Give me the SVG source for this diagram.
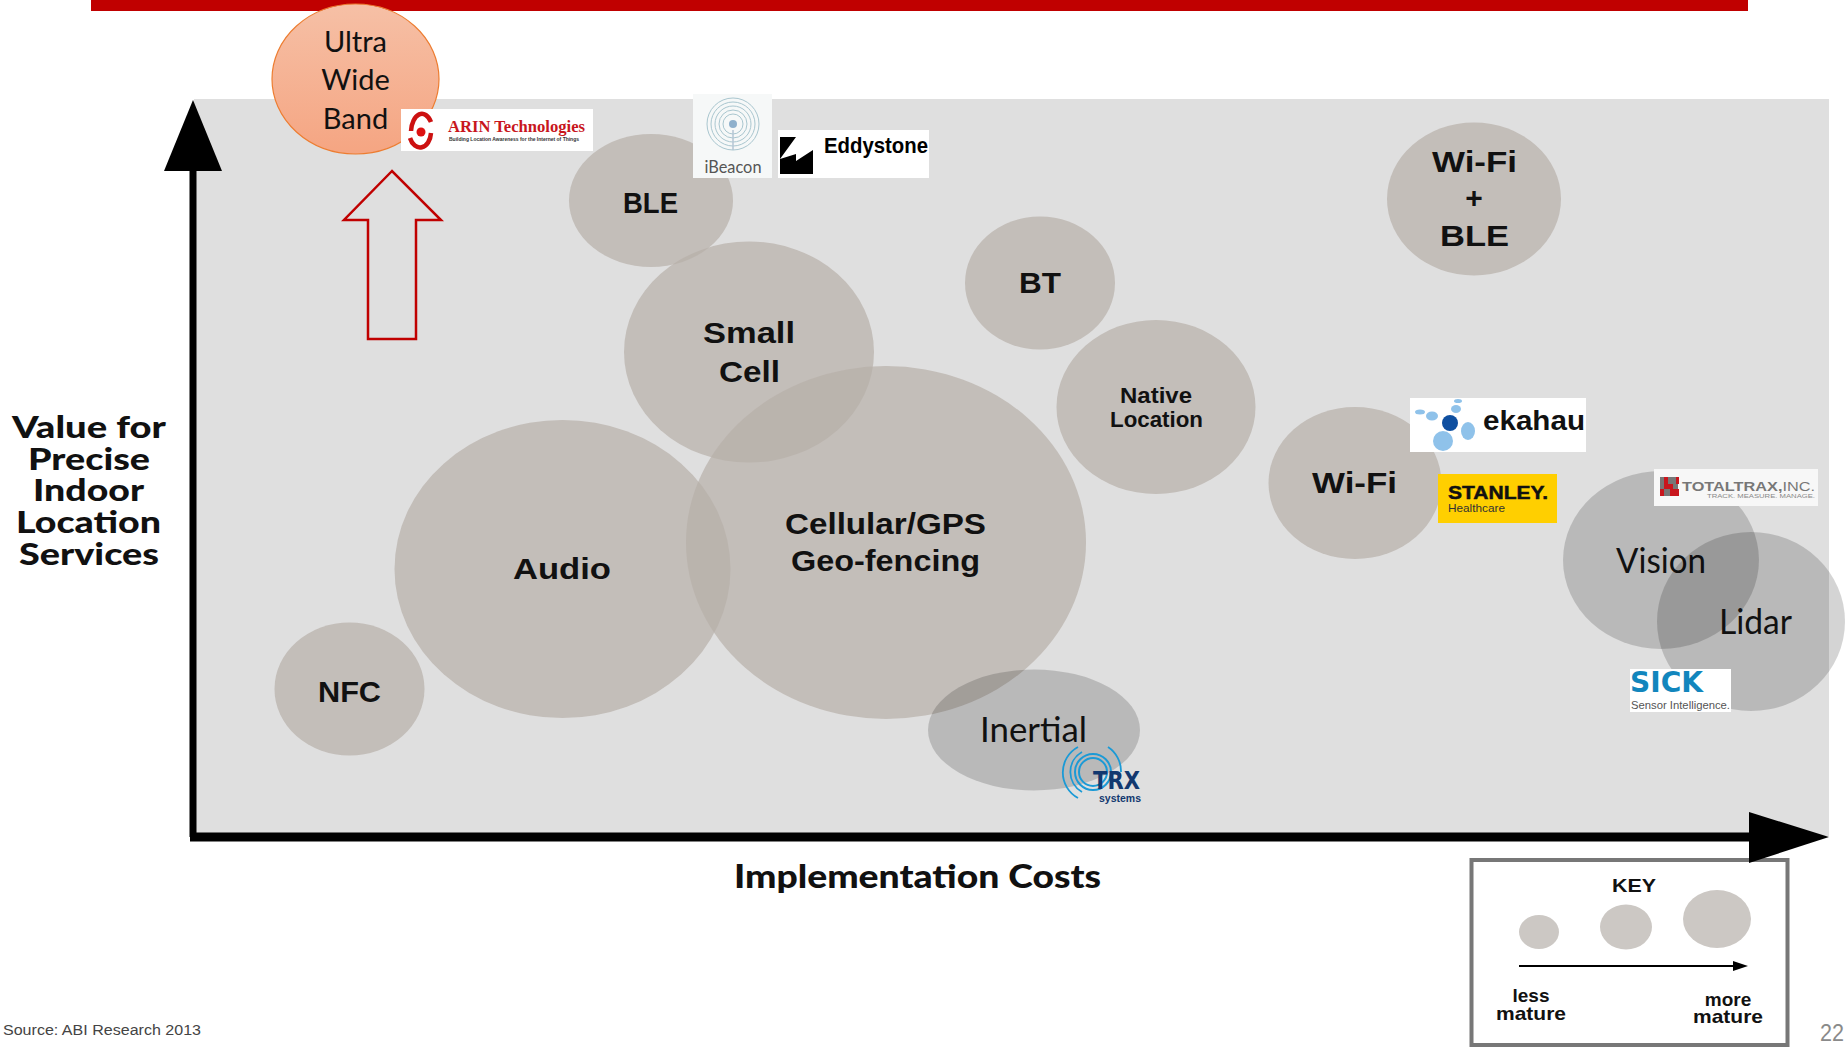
<svg xmlns="http://www.w3.org/2000/svg" width="1845" height="1047" viewBox="0 0 1845 1047">
<defs>
<linearGradient id="uwb" x1="0" y1="0" x2="0" y2="1"><stop offset="0" stop-color="#f6c0a6"/><stop offset="1" stop-color="#f5a582"/></linearGradient>
<style>
.b{fill:#b6afa8;fill-opacity:.7}
.g{fill:#000;fill-opacity:.17}
.k{fill:#ccc8c4}
text{font-family:"Liberation Sans",Arial,sans-serif;fill:#111}
.bl{font-weight:700;font-size:30px}
.c{font-family:Lato,"Liberation Sans",sans-serif;font-size:29px;fill:#111}
.c2{font-family:Lato,"Liberation Sans",sans-serif;font-size:34px;fill:#111}
.ax{font-family:Lato,"Liberation Sans",sans-serif;font-weight:900;font-size:31px}
.kt{font-weight:700;font-size:19px}
.logo{fill:#fff}
</style>
</defs>
<rect width="1845" height="1047" fill="#fff"/>
<rect x="91" y="0" width="1657" height="11" fill="#c00000"/>
<rect x="194" y="99" width="1635" height="737" fill="#dfdfdf"/>

<g id="node-ble"><ellipse class="b" cx="651" cy="200.5" rx="82" ry="66.5"/><text class="bl" x="623" y="213" textLength="55" lengthAdjust="spacingAndGlyphs">BLE</text></g>
<g id="node-small-cell"><ellipse class="b" cx="749" cy="352" rx="125" ry="110.5"/><text class="bl" x="703" y="343" textLength="92" lengthAdjust="spacingAndGlyphs">Small</text><text class="bl" x="719" y="382" textLength="61" lengthAdjust="spacingAndGlyphs">Cell</text></g>
<g id="node-bt"><ellipse class="b" cx="1040" cy="283" rx="75" ry="66.5"/><text class="bl" x="1019" y="293" textLength="42" lengthAdjust="spacingAndGlyphs">BT</text></g>
<g id="node-wifi-ble"><ellipse class="b" cx="1474" cy="199" rx="87" ry="76.5"/><text class="bl" x="1432" y="172" textLength="85" lengthAdjust="spacingAndGlyphs">Wi-Fi</text><text class="bl" x="1474" y="208" text-anchor="middle">+</text><text class="bl" x="1440" y="246" textLength="69" lengthAdjust="spacingAndGlyphs">BLE</text></g>
<g id="node-native"><ellipse class="b" cx="1156" cy="407" rx="99.5" ry="87"/><text class="bl" x="1120" y="403" textLength="72" lengthAdjust="spacingAndGlyphs" style="font-size:22px">Native</text><text class="bl" x="1110" y="427" textLength="93" lengthAdjust="spacingAndGlyphs" style="font-size:22px">Location</text></g>
<g id="node-wifi"><ellipse class="b" cx="1355" cy="483" rx="86.5" ry="76"/><text class="bl" x="1312" y="493" textLength="85" lengthAdjust="spacingAndGlyphs">Wi-Fi</text></g>
<g id="node-audio"><ellipse class="b" cx="562.5" cy="569" rx="168" ry="149"/><text class="bl" x="513" y="579" textLength="98" lengthAdjust="spacingAndGlyphs">Audio</text></g>
<g id="node-cellular"><ellipse class="b" cx="886" cy="542.5" rx="200" ry="176.5"/><text class="bl" x="785" y="534" textLength="201" lengthAdjust="spacingAndGlyphs">Cellular/GPS</text><text class="bl" x="791" y="571" textLength="189" lengthAdjust="spacingAndGlyphs">Geo-fencing</text></g>
<g id="node-nfc"><ellipse class="b" cx="349.5" cy="689" rx="75" ry="66.5"/><text class="bl" x="318" y="702" textLength="63" lengthAdjust="spacingAndGlyphs">NFC</text></g>
<g id="node-inertial"><ellipse class="g" cx="1034" cy="730" rx="106" ry="60.5"/><text class="c2" x="980" y="742" textLength="107" lengthAdjust="spacingAndGlyphs">Inertial</text></g>
<g id="node-vision"><ellipse class="g" cx="1661" cy="560" rx="98" ry="89"/><text class="c2" x="1616" y="573" textLength="90" lengthAdjust="spacingAndGlyphs">Vision</text></g>
<g id="node-lidar"><ellipse class="g" cx="1751" cy="621.5" rx="94" ry="89.5"/><text class="c2" x="1719" y="634" textLength="73" lengthAdjust="spacingAndGlyphs">Lidar</text></g>

<g id="node-uwb"><ellipse cx="355.5" cy="79" rx="83.5" ry="75" fill="url(#uwb)" stroke="#ed7d31" stroke-width="1.2"/>
<text class="c" x="355.5" y="52" text-anchor="middle">Ultra</text><text class="c" x="355.5" y="90" text-anchor="middle">Wide</text><text class="c" x="355.5" y="129" text-anchor="middle">Band</text></g>

<g id="logo-arin"><rect class="logo" x="401" y="109" width="192" height="42"/>
<path d="M411 131A11 19 0 0 1 431 122M431 133A11 16 0 0 1 410 138" fill="none" stroke="#cc1111" stroke-width="4.5"/><circle cx="421" cy="132" r="4.5" fill="#dd1111"/>
<text x="448" y="132" textLength="137" lengthAdjust="spacingAndGlyphs" style="font-family:'Liberation Serif',serif;font-weight:700;font-size:16px;fill:#c8161d">ARIN Technologies</text>
<text x="449" y="141" textLength="130" lengthAdjust="spacingAndGlyphs" style="font-weight:700;font-size:5px;fill:#333">Building Location Awareness for the Internet of Things</text></g>

<g id="logo-ibeacon"><rect x="693" y="94" width="79" height="84" fill="#f6f8f8"/>
<g fill="none" stroke="#a9c6cf" stroke-width="1"><ellipse cx="733" cy="124" rx="26" ry="26"/><ellipse cx="733" cy="124" rx="22" ry="22"/><ellipse cx="733" cy="124" rx="18" ry="18"/><ellipse cx="733" cy="124" rx="14" ry="14"/><ellipse cx="733" cy="124" rx="10" ry="10"/></g>
<path d="M733 130V150" stroke="#b5c6d4" stroke-width="1.5"/><circle cx="733" cy="124" r="4" fill="#8fb0cc"/>
<text x="733" y="173" text-anchor="middle" textLength="57" lengthAdjust="spacingAndGlyphs" style="font-family:Lato,sans-serif;font-size:17px;fill:#555">iBeacon</text></g>

<g id="logo-eddystone"><rect class="logo" x="778" y="130" width="151" height="48"/>
<path d="M780 137H796L780 159ZM780 174V159L796 154V161L813 150V174Z" fill="#000"/>
<text x="824" y="153" textLength="104" lengthAdjust="spacingAndGlyphs" style="font-weight:700;font-size:22px;fill:#000">Eddystone</text></g>

<g id="logo-ekahau"><rect class="logo" x="1410" y="398" width="176" height="54"/>
<g fill="#8fc2ea"><ellipse cx="1420" cy="412" rx="5" ry="2.5"/><ellipse cx="1432" cy="416" rx="6" ry="4.5"/><ellipse cx="1456" cy="409" rx="5" ry="4"/><ellipse cx="1458" cy="401" rx="4" ry="2"/><ellipse cx="1468" cy="431" rx="7" ry="9"/><circle cx="1443" cy="441" r="10"/></g>
<circle cx="1450" cy="423" r="8" fill="#0f4fa0"/>
<text x="1483" y="430" textLength="102" lengthAdjust="spacingAndGlyphs" style="font-weight:700;font-size:27px;fill:#111">ekahau</text></g>

<g id="logo-stanley"><rect x="1438" y="474" width="119" height="49" fill="#ffcf00"/>
<text x="1448" y="499" textLength="100" lengthAdjust="spacingAndGlyphs" style="font-weight:700;font-size:19px;fill:#111;stroke:#111;stroke-width:.5">STANLEY.</text>
<text x="1448" y="512" textLength="57" lengthAdjust="spacingAndGlyphs" style="font-size:11px;fill:#333">Healthcare</text></g>

<g id="logo-totaltrax"><rect x="1654" y="469" width="164" height="37" fill="#f7f7f7"/>
<path d="M1660 477H1678V496H1660Z" fill="#777"/><path d="M1664 477H1668V484H1676V477H1679V484H1673V489H1679V496H1670V489H1664V496H1660V489H1664Z" fill="#c8161d"/>
<text x="1682" y="491" textLength="133" lengthAdjust="spacingAndGlyphs" style="font-weight:700;font-size:12px;fill:#777">TOTALTRAX,<tspan style="font-weight:400">INC.</tspan></text>
<text x="1707" y="498" textLength="108" lengthAdjust="spacingAndGlyphs" style="font-size:5px;fill:#888">TRACK. MEASURE. MANAGE.</text></g>

<g id="logo-sick"><rect class="logo" x="1630" y="669" width="101" height="43"/>
<text x="1630" y="692" textLength="73" lengthAdjust="spacingAndGlyphs" style="font-family:'DejaVu Sans',sans-serif;font-weight:700;font-size:29px;fill:#1286bd">SICK</text>
<text x="1631" y="709" textLength="99" lengthAdjust="spacingAndGlyphs" style="font-size:11px;fill:#555">Sensor Intelligence.</text></g>

<g id="logo-trx"><g fill="none" stroke="#1b9ad6"><circle cx="1093" cy="772" r="14" stroke-width="2"/><circle cx="1093" cy="772" r="18" stroke-width="2"/><path d="M1078 747A29 29 0 0 0 1078 798M1108 747A29 29 0 0 1 1121 772" stroke-width="1.8"/><path d="M1082 752A23 23 0 0 0 1082 792" stroke-width="1.8"/></g>
<text x="1093" y="789" textLength="47" lengthAdjust="spacingAndGlyphs" style="font-family:'DejaVu Sans',sans-serif;font-weight:700;font-size:24px;fill:#12386f">TRX</text>
<text x="1099" y="802" textLength="42" lengthAdjust="spacingAndGlyphs" style="font-weight:700;font-size:11px;fill:#12386f">systems</text></g>

<g id="connectors">
<path d="M392 171L344 220H368V339H416V220H441Z" fill="none" stroke="#c00000" stroke-width="2.5"/>
<path d="M193 170V837" stroke="#000" stroke-width="7" fill="none"/>
<path d="M193 100L222 171H164Z" fill="#000"/>
<path d="M190 837H1750" stroke="#000" stroke-width="9" fill="none"/>
</g>

<g id="axis-labels">
<text class="ax" x="12" y="438" textLength="154" lengthAdjust="spacingAndGlyphs">Value for</text>
<text class="ax" x="28" y="470" textLength="122" lengthAdjust="spacingAndGlyphs">Precise</text>
<text class="ax" x="33" y="501" textLength="111" lengthAdjust="spacingAndGlyphs">Indoor</text>
<text class="ax" x="16" y="533" textLength="145" lengthAdjust="spacingAndGlyphs">Location</text>
<text class="ax" x="19" y="565" textLength="140" lengthAdjust="spacingAndGlyphs">Services</text>
<text class="ax" style="font-size:33px" x="734" y="888" textLength="367" lengthAdjust="spacingAndGlyphs">Implementation Costs</text>
</g>

<g id="key"><rect x="1471.5" y="860" width="316" height="185" fill="#fff" stroke="#777" stroke-width="4"/>
<path d="M1749 812L1829 837L1749 863Z" fill="#000"/>
<text class="kt" x="1612" y="892" textLength="44" lengthAdjust="spacingAndGlyphs">KEY</text>
<ellipse class="k" cx="1539" cy="932" rx="20" ry="17"/><ellipse class="k" cx="1626" cy="927" rx="26" ry="22.5"/><ellipse class="k" cx="1717" cy="919" rx="34" ry="29"/>
<path d="M1519 966H1734" stroke="#000" stroke-width="2"/><path d="M1733 961L1748 966L1733 971Z" fill="#000"/>
<text class="kt" x="1531" y="1002" text-anchor="middle">less</text><text class="kt" x="1496" y="1020" textLength="70" lengthAdjust="spacingAndGlyphs">mature</text>
<text class="kt" x="1728" y="1006" text-anchor="middle">more</text><text class="kt" x="1693" y="1023" textLength="70" lengthAdjust="spacingAndGlyphs">mature</text></g>

<text x="3" y="1035" textLength="198" lengthAdjust="spacingAndGlyphs" style="font-size:14px;fill:#444">Source: ABI Research 2013</text>
<text x="1820" y="1041" style="font-size:24px;fill:#8a8a8a" textLength="24" lengthAdjust="spacingAndGlyphs">22</text>
</svg>
